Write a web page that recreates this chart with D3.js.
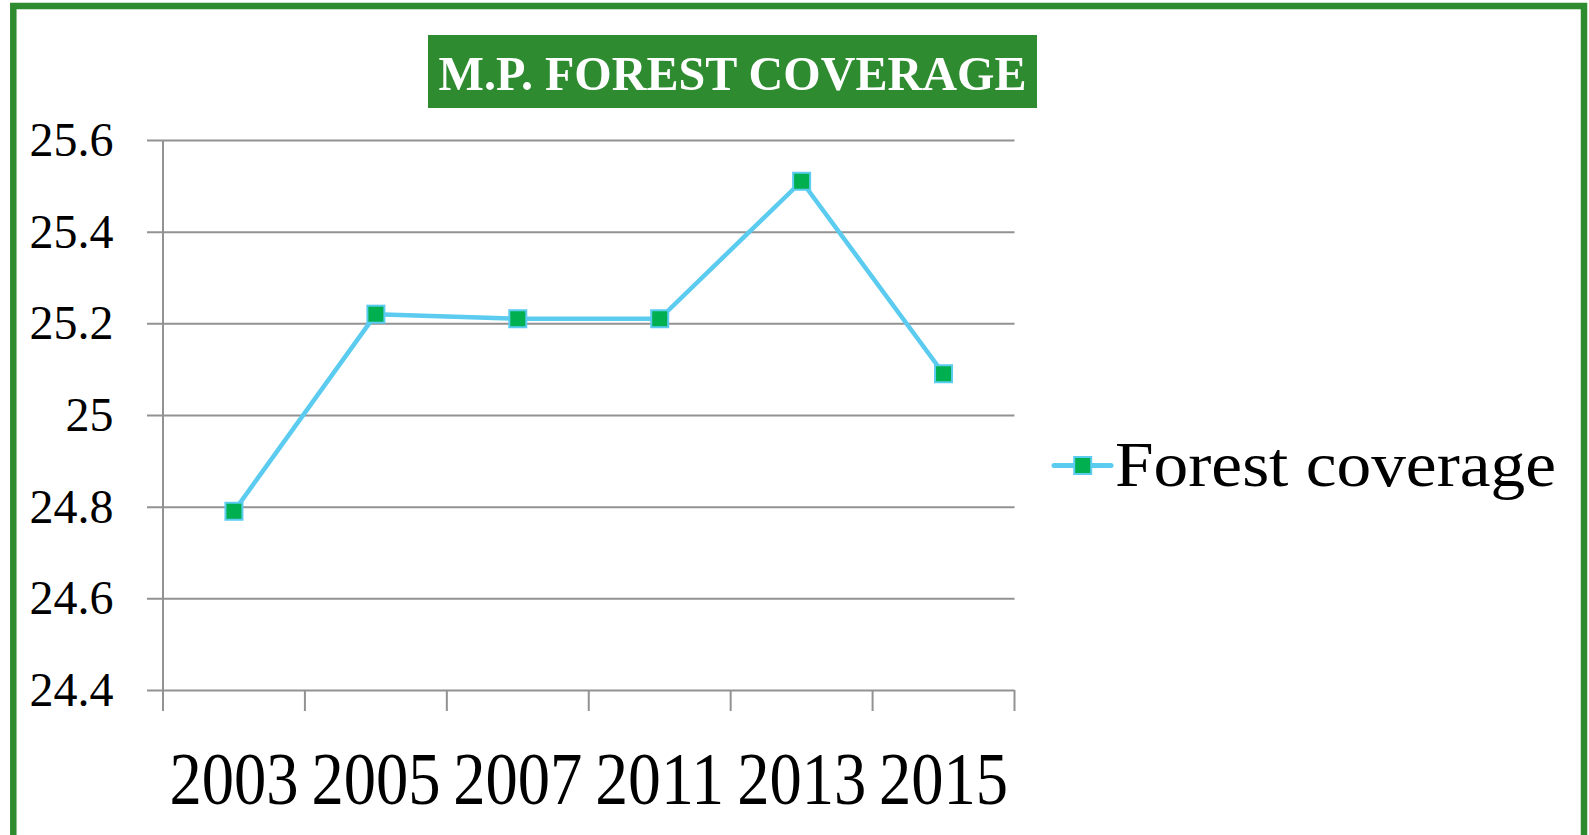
<!DOCTYPE html>
<html>
<head>
<meta charset="utf-8">
<script src="https://cdn.jsdelivr.net/npm/d3@7"></script>
<style>
  body { margin: 0; background: #fff; }
  svg { display: block; font-family: "Liberation Serif", "DejaVu Serif", serif; }
</style>
</head>
<body>
<div id="chart"></div>
<script>
// Data
const years = ["2003", "2005", "2007", "2011", "2013", "2015"];
const coverage = [24.79, 25.22, 25.21, 25.21, 25.51, 25.09];
const yTicks = [24.4, 24.6, 24.8, 25, 25.2, 25.4, 25.6];
const seriesName = "Forest coverage";
const title = "M.P. FOREST COVERAGE";

const data = years.map((y, i) => ({year: y, value: coverage[i]}));

// Dimensions
const width = 1589;
const height = 835;
const marginTop = 140;
const marginLeft = 163;
const plotRight = 1014.5;
const plotBottom = 690;

const lineColor = "#5bcbf0";
const markerColor = "#00b050";
const gridColor = "#929292";
const frameColor = "#2e8b30";

const x = d3.scaleBand()
    .domain(years)
    .range([marginLeft, plotRight]);

const y = d3.scaleLinear()
    .domain([24.4, 25.6])
    .range([plotBottom, marginTop]);

const svg = d3.select("#chart")
  .append("svg")
    .attr("width", width)
    .attr("height", height)
    .attr("viewBox", [0, 0, width, height]);

// Green frame
svg.append("rect")
    .attr("x", 13.3)
    .attr("y", 6)
    .attr("width", 1584 - 13.3)
    .attr("height", 900)
    .attr("fill", "none")
    .attr("stroke", frameColor)
    .attr("stroke-width", 6.5);

// Title box
const titleG = svg.append("g");
titleG.append("rect")
    .attr("x", 428)
    .attr("y", 35)
    .attr("width", 1037 - 428)
    .attr("height", 108 - 35)
    .attr("fill", frameColor);
titleG.append("text")
    .attr("x", 732.5)
    .attr("y", 89.5)
    .attr("text-anchor", "middle")
    .attr("fill", "#fff")
    .attr("font-weight", "bold")
    .attr("font-size", 49)
    .attr("textLength", 588)
    .attr("lengthAdjust", "spacingAndGlyphs")
    .text(title);

// Y axis with gridlines
svg.append("g")
    .attr("transform", `translate(${marginLeft - 16},0)`)
    .call(d3.axisLeft(y)
        .tickValues(yTicks)
        .tickSize(-(plotRight - marginLeft + 16))
        .tickPadding(33.5)
        .tickFormat(d => String(d)))
    .call(g => g.select(".domain").remove())
    .call(g => g.selectAll(".tick line")
        .attr("stroke", gridColor)
        .attr("stroke-width", 2))
    .call(g => g.selectAll(".tick text")
        .attr("font-family", "Liberation Serif")
        .attr("font-size", 48)
        .attr("fill", "#000"));

// Vertical axis line
svg.append("line")
    .attr("x1", marginLeft).attr("x2", marginLeft)
    .attr("y1", marginTop).attr("y2", plotBottom + 21)
    .attr("stroke", gridColor)
    .attr("stroke-width", 2);

// X axis: ticks on band edges, labels at band centres
const xAxis = svg.append("g");
const edges = years.map(d => x(d)).concat([x.range()[1]]);
xAxis.selectAll("line.edge")
  .data(edges)
  .join("line")
    .attr("class", "edge")
    .attr("x1", d => d).attr("x2", d => d)
    .attr("y1", plotBottom).attr("y2", plotBottom + 21)
    .attr("stroke", gridColor)
    .attr("stroke-width", 2);
xAxis.selectAll("text")
  .data(years)
  .join("text")
    .attr("x", d => x(d) + x.bandwidth() / 2)
    .attr("y", 804)
    .attr("text-anchor", "middle")
    .attr("font-size", 75)
    .attr("textLength", 129)
    .attr("lengthAdjust", "spacingAndGlyphs")
    .text(d => d);

// Series line
const line = d3.line()
    .x(d => x(d.year) + x.bandwidth() / 2)
    .y(d => y(d.value));

svg.append("path")
    .datum(data)
    .attr("fill", "none")
    .attr("stroke", lineColor)
    .attr("stroke-width", 4.5)
    .attr("stroke-linejoin", "round")
    .attr("d", line);

// Markers
const ms = 17;
svg.append("g")
  .selectAll("rect")
  .data(data)
  .join("rect")
    .attr("x", d => x(d.year) + x.bandwidth() / 2 - ms / 2)
    .attr("y", d => y(d.value) - ms / 2)
    .attr("width", ms)
    .attr("height", ms)
    .attr("fill", markerColor)
    .attr("stroke", lineColor)
    .attr("stroke-width", 2);

// Legend
const legend = svg.append("g").attr("transform", "translate(1054,465.5)");
legend.append("line")
    .attr("x1", 0).attr("x2", 57)
    .attr("stroke", lineColor)
    .attr("stroke-width", 5)
    .attr("stroke-linecap", "round");
legend.append("rect")
    .attr("x", 28.7 - ms / 2)
    .attr("y", -ms / 2)
    .attr("width", ms)
    .attr("height", ms)
    .attr("fill", markerColor)
    .attr("stroke", lineColor)
    .attr("stroke-width", 2);
legend.append("text")
    .attr("x", 61)
    .attr("y", 20)
    .attr("font-size", 64)
    .attr("textLength", 441)
    .attr("lengthAdjust", "spacingAndGlyphs")
    .text(seriesName);
</script>
</body>
</html>
